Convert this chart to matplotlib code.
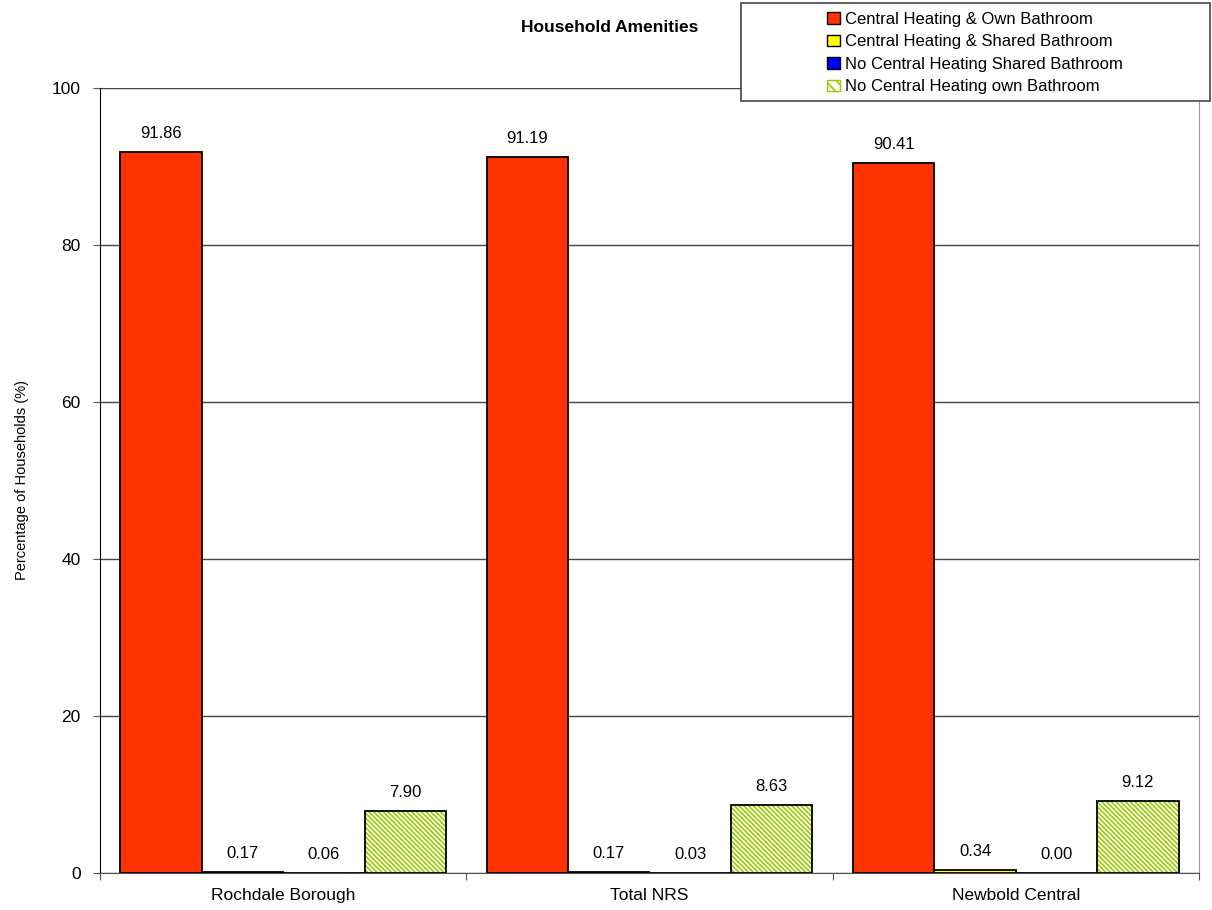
import matplotlib
matplotlib.use("Agg")
import matplotlib.pyplot as plt
import numpy as np
from matplotlib.patches import Patch, Rectangle

plt.rcParams['font.family'] = ['Liberation Sans', 'DejaVu Sans']
plt.rcParams['hatch.linewidth'] = 1.2

categories = ["Rochdale Borough", "Total NRS", "Newbold Central"]
series_names = ["Central Heating & Own Bathroom",
                "Central Heating & Shared Bathroom",
                "No Central Heating Shared Bathroom",
                "No Central Heating own Bathroom"]
ch_own = [91.86, 91.19, 90.41]
ch_shared = [0.17, 0.17, 0.34]
noch_shared = [0.06, 0.03, 0.00]
noch_own = [7.90, 8.63, 9.12]
series_values = [ch_own, ch_shared, noch_shared, noch_own]
colors = ["#FF3300", "#FFFF00", "#0000FF", "#99CC00"]
yticks = [0, 20, 40, 60, 80, 100]

fig = plt.figure(figsize=(12.12, 9.1), dpi=100)
ax = fig.add_axes([100/1212, 1-873/910, 1099/1212, 785/910])

x = np.arange(len(categories))
w = 1/4.5
for i, (vals, c) in enumerate(zip(series_values, colors)):
    xs = x + (i - 1.5) * w
    if i == 3:
        ax.bar(xs, vals, w, facecolor="white", edgecolor=c, hatch="\\" * 7,
               linewidth=0, zorder=3)
        ax.bar(xs, vals, w, facecolor="none", edgecolor="black", linewidth=1.3, zorder=4)
    else:
        ax.bar(xs, vals, w, color=c, edgecolor="black", linewidth=1.3, zorder=3)
    for xx, v in zip(xs, vals):
        ax.text(xx, v + 1.4, f"{v:.2f}", ha="center", va="bottom", fontsize=12, zorder=5)

ax.set_xlim(-0.5, 2.5)
ax.set_ylim(0, 100)
ax.set_yticks(yticks)
ax.set_yticklabels([str(t) for t in yticks], fontsize=12.5)
ax.yaxis.grid(True, color="#444444", linewidth=1)
ax.set_axisbelow(True)
ax.set_xticks([-0.5, 0.5, 1.5, 2.5])
ax.set_xticklabels([])
ax.set_xticks(x, minor=True)
ax.set_xticklabels(categories, minor=True, fontsize=12.5)
ax.tick_params(axis="x", which="minor", length=0, pad=11)
ax.tick_params(axis="x", which="major", length=5, direction="out", color="#555555")
ax.tick_params(axis="y", length=5, direction="out", pad=9, color="#555555")
ax.spines["top"].set_visible(False)
ax.spines["right"].set_color("#999999")
ax.spines["left"].set_color("black")
ax.spines["bottom"].set_color("#555555")

ax.set_ylabel("Percentage of Households (%)", fontsize=10.5, labelpad=16)

fig.text(610/1212, 1-27/910, "Household Amenities", ha="center", va="center",
         fontsize=12.5, fontweight="bold")

# legend frame
fig.patches.append(Rectangle((741/1212, 1-101/910), 469/1212, 98/910,
                             transform=fig.transFigure, facecolor="white",
                             edgecolor="#444444", linewidth=1.2, zorder=10))

handles = []
for i, (n, c) in enumerate(zip(series_names, colors)):
    if i == 3:
        handles.append(Patch(facecolor="white", edgecolor="#99CC00", hatch="\\\\\\", label=n))
    else:
        handles.append(Patch(facecolor=c, edgecolor="black", label=n))
leg = fig.legend(handles=handles, loc="center",
                 bbox_to_anchor=(975/1212, 1-53/910), fontsize=12,
                 frameon=False,
                 handlelength=0.75, handleheight=0.7, handletextpad=0.3,
                 labelspacing=0.45, borderpad=0, borderaxespad=0)
leg.set_zorder(11)

fig.savefig("out.png", dpi=100)
